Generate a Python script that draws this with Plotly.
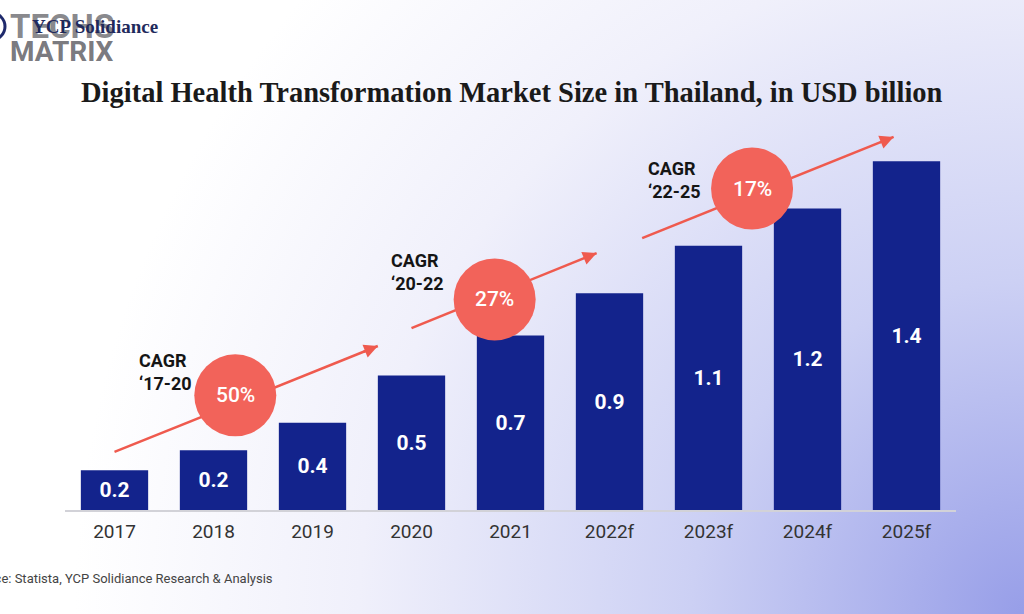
import base64
import plotly.graph_objects as go

# ---- data ----
years = ["2017", "2018", "2019", "2020", "2021", "2022f", "2023f", "2024f", "2025f"]
market_size = [0.16, 0.24, 0.35, 0.54, 0.70, 0.87, 1.06, 1.21, 1.40]
value_labels = ["0.2", "0.2", "0.4", "0.5", "0.7", "0.9", "1.1", "1.2", "1.4"]
cagr_rates = ["50%", "27%", "17%"]
cagr_periods = ["\u201817-20", "\u201820-22", "\u201822-25"]

# ---- styling / layout constants ----
BAR_COLOR = "#13238c"
CORAL_LINE = "#ef5a4e"
CORAL_FILL = "#f2635a"

# arrow (start, end) in data coords
arrows = [((0.0, 0.233), (2.66, 0.658)),
          ((3.0, 0.73), (4.87, 1.031)),
          ((5.33, 1.091), (7.87, 1.497))]
circles = [(1.22, 0.46), (3.84, 0.845), (6.44, 1.29)]
cagr_text_pos = [(0.23, 0.554), (2.77, 0.955), (5.37, 1.324)]

fig = go.Figure()
fig.add_trace(go.Bar(
    x=years, y=market_size, text=value_labels,
    textposition="inside", insidetextanchor="middle",
    textfont=dict(family="Roboto", size=21, color="white", weight="bold"),
    marker=dict(color=BAR_COLOR, line=dict(width=0)),
    width=0.68, hoverinfo="skip", cliponaxis=False,
))

W, H = 1024, 614
L, R, T, B = 65, 68, 49, 104
pw, ph = W - L - R, H - T - B


def px_x(x):
    return (x - L) / pw


def px_y(y):
    return (H - B - y) / ph


shapes = []
annotations = []
for (s, e) in arrows:
    shapes.append(dict(type="line", xref="x", yref="y", x0=s[0], y0=s[1], x1=e[0], y1=e[1],
                       line=dict(color=CORAL_LINE, width=2.5), layer="above"))
    ax = e[0] - 0.06 * (e[0] - s[0])
    ay = e[1] - 0.06 * (e[1] - s[1])
    annotations.append(dict(x=e[0], y=e[1], ax=ax, ay=ay, xref="x", yref="y", axref="x", ayref="y",
                            showarrow=True, arrowhead=2, arrowsize=1.1, arrowwidth=2.5,
                            arrowcolor=CORAL_LINE, text=""))
for (cx, cy), rate in zip(circles, cagr_rates):
    shapes.append(dict(type="circle", xref="x", yref="y", xsizemode="pixel", ysizemode="pixel",
                       xanchor=cx, yanchor=cy, x0=-41, x1=41, y0=-41, y1=41,
                       fillcolor=CORAL_FILL, line=dict(width=0), layer="above"))
    annotations.append(dict(x=cx, y=cy, xref="x", yref="y", text=rate, showarrow=False,
                            font=dict(family="Roboto", size=21, color="white", weight=500)))
for (tx, ty), period in zip(cagr_text_pos, cagr_periods):
    annotations.append(dict(x=tx, y=ty, xref="x", yref="y", xanchor="left", yanchor="middle",
                            align="left", showarrow=False, text="<b>CAGR<br>" + period + "</b>",
                            font=dict(family="Roboto", size=18, color="#151515")))

# logo ring edge
shapes.append(dict(type="circle", xref="paper", yref="paper",
                   x0=px_x(-22), x1=px_x(5), y0=px_y(40), y1=px_y(13),
                   line=dict(color="#1f2a6c", width=3), fillcolor="rgba(0,0,0,0)", layer="above"))


def px_note(x, y, text, font, xanchor="center"):
    return dict(x=px_x(x), y=px_y(y), xref="paper", yref="paper",
                xanchor=xanchor, yanchor="middle", text=text, showarrow=False, font=font)


# title
annotations.append(px_note(512, 92, "<b>Digital Health Transformation Market Size in Thailand, in USD billion</b>",
                           dict(family="Liberation Serif", size=28.5, color="#1a1a1a")))
# source
annotations.append(px_note(275, 578, "Source: Statista, YCP Solidiance Research & Analysis",
                           dict(family="Roboto", size=13, color="#444444"), xanchor="right"))
# logo
annotations.append(px_note(8, 26, "<b>TECHS</b>",
                           dict(family="Roboto", size=33, color="rgba(105,105,110,0.8)"), xanchor="left"))
annotations.append(px_note(8, 51, "<b>MATRIX</b>",
                           dict(family="Roboto", size=28, color="rgba(105,105,110,0.9)"), xanchor="left"))
annotations.append(px_note(30, 27, "<b>YCP Solidiance</b>",
                           dict(family="Liberation Serif", size=19, color="#1f2a5c"), xanchor="left"))

# background gradient
svg = f'''<svg xmlns="http://www.w3.org/2000/svg" width="{W}" height="{H}">
<defs><radialGradient id="g" cx="{W}" cy="{H}" r="950" gradientUnits="userSpaceOnUse">
<stop offset="0" stop-color="#979ee8"/><stop offset="0.35" stop-color="#ccd0f4"/>
<stop offset="0.7" stop-color="#f0f0fb"/><stop offset="1" stop-color="#ffffff"/></radialGradient></defs>
<rect width="{W}" height="{H}" fill="url(#g)"/></svg>'''
src = "data:image/svg+xml;base64," + base64.b64encode(svg.encode()).decode()

fig.update_layout(
    width=W, height=H, margin=dict(l=L, r=R, t=T, b=B),
    paper_bgcolor="rgba(0,0,0,0)", plot_bgcolor="rgba(0,0,0,0)",
    showlegend=False, shapes=shapes, annotations=annotations,
    images=[dict(source=src, xref="paper", yref="paper", x=-L / pw, y=1 + T / ph,
                 sizex=W / pw, sizey=H / ph, xanchor="left", yanchor="top",
                 sizing="stretch", layer="below")],
    xaxis=dict(range=[-0.5, 8.5], showline=True, linecolor="#d2d2d8", linewidth=1.5,
               ticks="", showgrid=False, tickfont=dict(family="Roboto", size=19, color="#333333"),
               ticklabelstandoff=3, fixedrange=True),
    yaxis=dict(range=[0, 1.85], visible=False, showgrid=False, zeroline=False, fixedrange=True),
)

fig.write_html("out.html", config={"displayModeBar": False},
               post_script="document.body.style.margin='0';document.body.style.overflow='hidden';")
